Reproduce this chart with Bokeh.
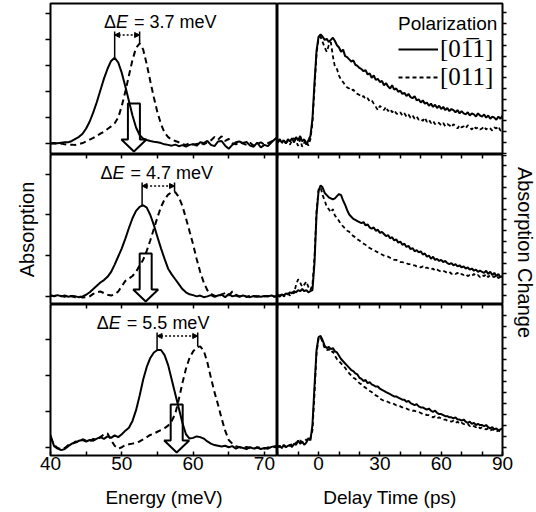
import math
from bokeh.plotting import figure
from bokeh.models import (Range1d, FixedTicker, LinearAxis, Arrow, NormalHead,
                          Legend, LegendItem, GridPlot)
from bokeh.core.properties import value
from bokeh.embed import file_html
from bokeh.resources import INLINE

# ---------------- data ----------------
energy = [40.0 + 0.5 * i for i in range(65)]          # meV sampling grid
delay = list(range(-20, 91))                           # ps sampling grid

abs_solid_1 = [0.00, 0.02, 0.01, 0.03, 0.05, 0.05, 0.10, 0.18, 0.26, 0.38,
               0.58, 0.85, 1.20, 1.60, 2.05, 2.50, 2.88, 3.18, 3.30, 3.12,
               2.72, 2.20, 1.64, 1.08, 0.62, 0.33, 0.19, 0.14, 0.10, 0.07,
               0.05, 0.02, -0.03, -0.05, -0.08, -0.04, -0.10, -0.06, -0.12, -0.05,
               -0.02, -0.08, 0.05, 0.02, 0.10, -0.05, -0.10, 0.08, 0.10, -0.08,
               -0.20, -0.05, 0.05, 0.08, 0.02, 0.06, -0.08, -0.12, 0.04, -0.15,
               -0.05, -0.10, 0.05, 0.18, 0.30]
abs_dash_1 = [0.00, 0.01, -0.02, 0.00, -0.03, -0.05, -0.04, -0.05, -0.02, 0.02,
              0.08, 0.15, 0.22, 0.30, 0.38, 0.46, 0.56, 0.66, 0.78, 1.00,
              1.45, 2.00, 2.62, 3.22, 3.68, 3.85, 3.62, 3.05, 2.40, 1.77,
              1.20, 0.75, 0.42, 0.25, 0.15, 0.10, 0.05, -0.02, -0.05, 0.02,
              -0.04, -0.02, 0.04, -0.03, 0.05, 0.12, 0.25, 0.15, 0.28, 0.10,
              0.18, 0.02, -0.03, 0.06, 0.00, -0.05, 0.03, -0.08, -0.02, 0.05,
              -0.04, 0.02, 0.08, 0.15, 0.20]
abs_solid_2 = [0.02, 0.01, 0.03, 0.00, 0.02, -0.01, 0.01, 0.00, -0.02, 0.00,
               0.04, 0.10, 0.18, 0.26, 0.34, 0.40, 0.48, 0.60, 0.78, 0.98,
               1.18, 1.42, 1.68, 1.92, 2.10, 2.20, 2.24, 2.18, 2.00, 1.75,
               1.46, 1.18, 0.92, 0.68, 0.54, 0.42, 0.30, 0.18, 0.10, 0.05,
               0.03, 0.00, 0.02, -0.02, 0.00, 0.03, -0.01, 0.02, 0.04, -0.02,
               0.06, 0.00, 0.02, -0.01, 0.02, 0.00, -0.02, 0.01, 0.00, -0.01,
               0.01, 0.00, 0.02, -0.01, 0.00]
abs_dash_2 = [0.02, 0.00, 0.03, 0.01, -0.01, 0.02, 0.00, -0.02, 0.00, -0.03,
              -0.02, 0.00, 0.06, 0.10, 0.12, 0.08, 0.04, 0.02, 0.05, 0.12,
              0.25, 0.38, 0.44, 0.50, 0.60, 0.76, 0.90, 1.12, 1.38, 1.66,
              1.94, 2.20, 2.38, 2.50, 2.56, 2.56, 2.44, 2.22, 1.92, 1.60,
              1.28, 0.92, 0.60, 0.34, 0.15, 0.06, 0.02, -0.02, 0.05, 0.08,
              0.02, 0.12, 0.04, 0.00, 0.03, -0.02, 0.02, 0.00, -0.01, 0.02,
              0.00, 0.01, -0.02, 0.00, 0.00]
abs_solid_3 = [0.35, 0.05, -0.02, -0.06, -0.03, 0.05, 0.12, 0.15, 0.20, 0.22,
               0.18, 0.22, 0.20, 0.26, 0.30, 0.25, 0.32, 0.28, 0.35, 0.30,
               0.38, 0.48, 0.56, 0.75, 1.05, 1.45, 1.90, 2.25, 2.50, 2.65,
               2.72, 2.72, 2.58, 2.30, 1.90, 1.50, 1.10, 0.70, 0.38, 0.26,
               0.28, 0.32, 0.30, 0.26, 0.18, 0.12, 0.08, 0.06, 0.04, 0.06,
               0.02, 0.05, -0.02, 0.03, 0.00, -0.03, 0.02, -0.02, 0.01, -0.03,
               0.00, -0.02, 0.03, 0.05, 0.05]
abs_dash_3 = [0.30, 0.08, 0.00, -0.04, 0.00, 0.08, 0.10, 0.18, 0.16, 0.24,
              0.20, 0.18, 0.25, 0.22, 0.30, 0.38, 0.40, 0.22, 0.06, -0.02,
              0.02, 0.08, 0.10, 0.12, 0.14, 0.18, 0.24, 0.30, 0.36, 0.40,
              0.45, 0.50, 0.55, 0.62, 0.75, 0.95, 1.35, 1.80, 2.20, 2.50,
              2.68, 2.79, 2.82, 2.70, 2.38, 1.95, 1.55, 1.20, 0.82, 0.48,
              0.22, 0.12, 0.05, 0.02, -0.02, 0.03, 0.00, -0.03, 0.02, 0.00,
              -0.02, 0.01, 0.04, 0.02, 0.03]

chg_solid_1 = [0.01, 0.03, 0.00, 0.02, -0.01, 0.03, 0.01, 0.04, 0.00, 0.05,
               0.02, 0.06, 0.01, 0.03, -0.02, 0.02, 0.06, 0.22, 0.55, 0.85,
               0.98, 1.00, 0.98, 0.95, 0.96, 0.93, 0.95, 0.97, 0.94, 0.90,
               0.88, 0.84, 0.86, 0.80, 0.79, 0.77, 0.75, 0.76, 0.72, 0.71,
               0.69, 0.68, 0.66, 0.67, 0.63, 0.64, 0.60, 0.62, 0.58, 0.59,
               0.56, 0.57, 0.53, 0.55, 0.52, 0.50, 0.53, 0.49, 0.50, 0.47,
               0.48, 0.45, 0.46, 0.43, 0.45, 0.42, 0.41, 0.43, 0.39, 0.40,
               0.37, 0.39, 0.36, 0.37, 0.34, 0.36, 0.33, 0.35, 0.32, 0.34,
               0.31, 0.33, 0.30, 0.32, 0.29, 0.31, 0.30, 0.28, 0.30, 0.27,
               0.29, 0.27, 0.26, 0.28, 0.25, 0.27, 0.26, 0.24, 0.27, 0.25,
               0.24, 0.26, 0.23, 0.25, 0.22, 0.24, 0.23, 0.21, 0.24, 0.22, 0.25]
chg_dash_1 = [0.00, 0.02, -0.01, 0.03, 0.00, 0.01, -0.02, 0.02, 0.04, 0.01,
              -0.03, 0.03, -0.04, 0.00, 0.02, -0.03, 0.03, 0.18, 0.50, 0.82,
              0.96, 0.98, 0.93, 0.88, 0.84, 0.90, 0.93, 0.80, 0.70, 0.68,
              0.62, 0.58, 0.56, 0.53, 0.51, 0.50, 0.48, 0.49, 0.46, 0.45,
              0.44, 0.42, 0.43, 0.40, 0.41, 0.38, 0.39, 0.36, 0.33, 0.30,
              0.34, 0.32, 0.30, 0.33, 0.29, 0.31, 0.28, 0.30, 0.27, 0.26,
              0.28, 0.25, 0.27, 0.24, 0.26, 0.23, 0.25, 0.22, 0.24, 0.21,
              0.22, 0.20, 0.23, 0.19, 0.21, 0.18, 0.20, 0.17, 0.19, 0.18,
              0.16, 0.18, 0.15, 0.17, 0.16, 0.14, 0.17, 0.15, 0.13, 0.16,
              0.14, 0.15, 0.13, 0.16, 0.14, 0.12, 0.15, 0.13, 0.14, 0.12,
              0.13, 0.15, 0.12, 0.14, 0.13, 0.11, 0.14, 0.13, 0.15, 0.11, 0.12]
chg_solid_2 = [0.00, -0.01, 0.01, 0.00, 0.02, 0.01, 0.03, 0.02, 0.04, 0.03,
               0.05, 0.04, 0.06, 0.04, 0.05, 0.03, 0.04, 0.05, 0.30, 0.75,
               0.97, 1.02, 1.00, 0.95, 0.93, 0.91, 0.90, 0.89, 0.90, 0.92,
               0.94, 0.93, 0.88, 0.84, 0.79, 0.75, 0.73, 0.71, 0.70, 0.69,
               0.68, 0.67, 0.68, 0.65, 0.66, 0.63, 0.62, 0.63, 0.60, 0.61,
               0.58, 0.59, 0.57, 0.55, 0.56, 0.53, 0.54, 0.51, 0.52, 0.49,
               0.50, 0.47, 0.48, 0.45, 0.46, 0.43, 0.44, 0.41, 0.42, 0.40,
               0.41, 0.38, 0.39, 0.36, 0.37, 0.34, 0.36, 0.33, 0.34, 0.32,
               0.33, 0.31, 0.32, 0.30, 0.29, 0.30, 0.28, 0.29, 0.27, 0.28,
               0.26, 0.27, 0.25, 0.26, 0.24, 0.25, 0.23, 0.24, 0.22, 0.23,
               0.22, 0.21, 0.23, 0.20, 0.22, 0.19, 0.21, 0.18, 0.20, 0.17, 0.18]
chg_dash_2 = [0.01, 0.00, 0.02, -0.01, 0.01, 0.02, 0.00, 0.03, 0.02, 0.10,
              0.15, 0.12, 0.08, 0.10, 0.13, 0.08, 0.05, 0.10, 0.35, 0.78,
              0.98, 1.00, 0.93, 0.88, 0.82, 0.80, 0.77, 0.80, 0.74, 0.72,
              0.69, 0.66, 0.64, 0.62, 0.60, 0.59, 0.57, 0.55, 0.54, 0.52,
              0.51, 0.49, 0.48, 0.47, 0.45, 0.44, 0.43, 0.42, 0.41, 0.40,
              0.39, 0.38, 0.37, 0.36, 0.36, 0.35, 0.34, 0.33, 0.33, 0.32,
              0.31, 0.31, 0.30, 0.30, 0.29, 0.29, 0.28, 0.28, 0.27, 0.27,
              0.26, 0.27, 0.25, 0.26, 0.25, 0.24, 0.25, 0.23, 0.24, 0.23,
              0.22, 0.23, 0.22, 0.21, 0.22, 0.20, 0.21, 0.20, 0.21, 0.19,
              0.20, 0.19, 0.20, 0.18, 0.19, 0.18, 0.20, 0.18, 0.19, 0.17,
              0.19, 0.18, 0.20, 0.17, 0.19, 0.18, 0.17, 0.19, 0.16, 0.18, 0.17]
chg_solid_3 = [0.00, 0.01, -0.01, 0.02, 0.00, 0.01, 0.02, 0.00, 0.03, 0.02,
               0.06, 0.03, 0.05, 0.02, 0.04, 0.08, 0.06, 0.20, 0.55, 0.88,
               1.00, 1.01, 0.97, 0.92, 0.90, 0.91, 0.89, 0.90, 0.87, 0.86,
               0.83, 0.80, 0.78, 0.76, 0.74, 0.72, 0.70, 0.69, 0.67, 0.66,
               0.63, 0.62, 0.60, 0.61, 0.58, 0.59, 0.57, 0.56, 0.55, 0.55,
               0.53, 0.52, 0.51, 0.50, 0.49, 0.48, 0.47, 0.46, 0.46, 0.45,
               0.44, 0.43, 0.43, 0.41, 0.42, 0.40, 0.39, 0.38, 0.39, 0.37,
               0.36, 0.36, 0.35, 0.34, 0.35, 0.33, 0.32, 0.33, 0.31, 0.30,
               0.30, 0.29, 0.28, 0.28, 0.27, 0.27, 0.26, 0.27, 0.25, 0.25,
               0.24, 0.25, 0.23, 0.22, 0.23, 0.21, 0.22, 0.20, 0.21, 0.20,
               0.20, 0.19, 0.20, 0.18, 0.17, 0.18, 0.16, 0.17, 0.15, 0.16, 0.17]
chg_dash_3 = [0.01, 0.00, 0.02, 0.01, 0.00, 0.02, 0.01, 0.03, 0.02, 0.04,
              0.05, 0.06, 0.04, 0.05, 0.07, 0.05, 0.08, 0.15, 0.48, 0.85,
              0.99, 1.00, 0.95, 0.90, 0.88, 0.89, 0.86, 0.87, 0.83, 0.80,
              0.78, 0.76, 0.74, 0.72, 0.69, 0.67, 0.65, 0.63, 0.62, 0.60,
              0.58, 0.57, 0.55, 0.54, 0.52, 0.51, 0.50, 0.48, 0.47, 0.46,
              0.44, 0.43, 0.42, 0.42, 0.41, 0.40, 0.40, 0.39, 0.38, 0.38,
              0.37, 0.36, 0.36, 0.35, 0.34, 0.34, 0.33, 0.33, 0.32, 0.32,
              0.31, 0.30, 0.30, 0.29, 0.29, 0.28, 0.27, 0.28, 0.26, 0.27,
              0.26, 0.25, 0.25, 0.24, 0.24, 0.23, 0.24, 0.22, 0.23, 0.21,
              0.22, 0.21, 0.20, 0.21, 0.19, 0.20, 0.19, 0.18, 0.19, 0.17,
              0.18, 0.17, 0.16, 0.17, 0.15, 0.16, 0.15, 0.14, 0.15, 0.14, 0.16]

abs_solid = [abs_solid_1, abs_solid_2, abs_solid_3]
abs_dash = [abs_dash_1, abs_dash_2, abs_dash_3]
chg_solid = [chg_solid_1, chg_solid_2, chg_solid_3]
chg_dash = [chg_dash_1, chg_dash_2, chg_dash_3]

delta_E = ["3.7", "4.7", "5.5"]                 # splitting labels
peak_solid_E = [49.0, 52.85, 54.95]             # peak positions (meV)
peak_dash_E = [52.5, 57.4, 60.65]
peak_solid_h = [3.31, 2.24, 2.71]               # peak heights
peak_dash_h = [3.85, 2.57, 2.82]
pump_E = [51.7, 53.35, 57.7]                    # hollow arrows (pump energy)
label_E = [47.5, 47.0, 46.5]                    # where each ΔE label starts

E_ticks = [40, 45, 50, 55, 60, 65, 70]
E_labeled = [40, 50, 60, 70]
T_ticks = [-20, -10, 0, 10, 20, 30, 40, 50, 60, 70, 80, 90]
T_labeled = [0, 30, 60, 90]
abs_yticks = [[0, 1, 2, 3, 4, 5], [0, 1, 2, 3], [0, 1, 2, 3]]
chg_yticks = [round(0.1 * i, 1) for i in range(-1, 14)]
legend_labels = ["[01\u03051]", "[011]"]

# ---------------- layout constants ----------------
FONT = "Liberation Sans"
SERIF = "Liberation Serif"
E_RANGE = (40.0, 71.84)
T_RANGE = (-20.1, 90.0)
ABS_YR = [(-0.42, 5.39), (-0.20, 3.486), (-0.21, 3.984)]
CHG_YR = [(-0.111, 1.287), (-0.083, 1.306), (-0.077, 1.296)]
LEFT_FW, RIGHT_FW, LAB_W = 227, 225, 23
FH = [151, 150, 151]
TOP_B = [3, 0, 0]
BOT_B = [0, 0, 57]
TOTAL_H = 512


def base_fig(fw, fh, xr, yr, yloc, **kw):
    p = figure(frame_width=fw, frame_height=fh, x_range=Range1d(*xr),
               y_range=Range1d(*yr), output_backend="svg", toolbar_location=None,
               x_axis_location=None, y_axis_location=yloc, **kw)
    p.xgrid.visible = False
    p.ygrid.visible = False
    p.outline_line_color = "black"
    p.outline_line_width = 2
    p.background_fill_color = "white"
    p.border_fill_color = "white"
    return p


def style_y(ax, ticks, tin, tout):
    ax.ticker = FixedTicker(ticks=ticks)
    ax.major_tick_in = tin
    ax.major_tick_out = tout
    ax.minor_tick_in = 0
    ax.minor_tick_out = 0
    ax.axis_line_color = None
    ax.major_tick_line_width = 1.5
    ax.major_label_text_color = None
    ax.major_label_text_font_size = "1px"
    ax.major_label_standoff = 0


def add_top_ticks(p, ticks):
    ax = LinearAxis(fixed_location=p.y_range.end, ticker=FixedTicker(ticks=ticks),
                    major_tick_in=4, major_tick_out=0, minor_tick_in=0, minor_tick_out=0,
                    axis_line_color=None, major_tick_line_width=1.5,
                    major_label_text_color=None, major_label_text_font_size="1px",
                    major_label_standoff=0)
    p.add_layout(ax, "above")


def add_bottom_axis(p, ticks, labeled, label):
    ax = LinearAxis(ticker=FixedTicker(ticks=ticks),
                    major_tick_in=4, major_tick_out=0, minor_tick_in=0, minor_tick_out=0,
                    axis_line_color=None, major_tick_line_width=1.5,
                    major_label_overrides={t: "" for t in ticks if t not in labeled},
                    major_label_text_font=FONT, major_label_text_font_size="19px",
                    major_label_text_color="black", major_label_standoff=1,
                    axis_label=label, axis_label_text_font=FONT,
                    axis_label_text_font_size="19px", axis_label_text_font_style="normal",
                    axis_label_text_color="black", axis_label_standoff=14)
    p.add_layout(ax, "below")


left_figs, right_figs = [], []
for i in range(3):
    # ---------- left: absorption spectra ----------
    p = base_fig(LEFT_FW, FH[i], E_RANGE, ABS_YR[i], "left",
                 min_border_left=50, min_border_right=0,
                 min_border_top=TOP_B[i], min_border_bottom=BOT_B[i])
    style_y(p.yaxis[0], abs_yticks[i], 0, 5)
    if i == 1:
        p.yaxis[0].axis_label = "Absorption"
        p.yaxis[0].axis_label_text_font = FONT
        p.yaxis[0].axis_label_text_font_size = "20px"
        p.yaxis[0].axis_label_text_font_style = "normal"
        p.yaxis[0].axis_label_text_color = "black"
        p.yaxis[0].axis_label_standoff = 8
    if i > 0:
        add_top_ticks(p, E_ticks)
    if i == 2:
        add_bottom_axis(p, E_ticks, E_labeled, "Energy (meV)")

    p.line(energy, abs_solid[i], line_color="black", line_width=2)
    p.line(energy, abs_dash[i], line_color="black", line_width=2, line_dash="6 4")

    ys, ye = ABS_YR[i]
    ppy = (ye - ys) / FH[i]                     # data units per pixel (y)
    ppx = (E_RANGE[1] - E_RANGE[0]) / LEFT_FW   # meV per pixel
    top_v = ye - 28 * ppy
    dot_y = ye - 31.5 * ppy
    p.segment(x0=[peak_solid_E[i], peak_dash_E[i]], y0=[peak_solid_h[i], peak_dash_h[i]],
              x1=[peak_solid_E[i], peak_dash_E[i]], y1=[top_v, top_v],
              line_color="black", line_width=1.5)
    p.add_layout(Arrow(x_start=peak_solid_E[i], y_start=dot_y, x_end=peak_dash_E[i], y_end=dot_y,
                       line_color="black", line_width=1.5, line_dash="2 2",
                       start=NormalHead(size=5, fill_color="black", line_color="black"),
                       end=NormalHead(size=5, fill_color="black", line_color="black")))
    # ΔE label: "Δ" + italic "E" + " = x meV"
    ty = ye - 18 * ppy
    tx = label_E[i]
    p.text(x=[tx], y=[ty], text=["Δ"], text_font=value(FONT), text_font_size="18px",
           text_baseline="middle", text_align="left", text_color="black")
    p.text(x=[tx], y=[ty], text=["E"], x_offset=12, text_font=value(FONT),
           text_font_size="18px", text_font_style="italic",
           text_baseline="middle", text_align="left", text_color="black")
    p.text(x=[tx], y=[ty], text=["= " + delta_E[i] + " meV"], x_offset=30,
           text_font=value(FONT), text_font_size="18px",
           text_baseline="middle", text_align="left", text_color="black")
    # hollow down arrow (pump energy)
    tip_y = ys + 3 * ppy
    shape = [(0, 0), (-12.5, 12), (-6, 12), (-6, 48), (6, 48), (6, 12), (12.5, 12)]
    p.patch([pump_E[i] + dx * ppx for dx, dy in shape],
            [tip_y + dy * ppy for dx, dy in shape],
            fill_color=None, line_color="black", line_width=2)
    left_figs.append(p)

    # ---------- right: absorption change transients ----------
    q = base_fig(RIGHT_FW, FH[i], T_RANGE, CHG_YR[i], "right",
                 min_border_left=0, min_border_right=11,
                 min_border_top=TOP_B[i], min_border_bottom=BOT_B[i])
    style_y(q.yaxis[0], chg_yticks, 0, 4)
    if i > 0:
        add_top_ticks(q, T_ticks)
    if i == 2:
        add_bottom_axis(q, T_ticks, T_labeled, "Delay Time (ps)")
    rd = q.line(delay, chg_dash[i], line_color="black", line_width=1.8, line_dash="4 3")
    rs = q.line(delay, chg_solid[i], line_color="black", line_width=2)
    if i == 0:
        leg = Legend(items=[LegendItem(label=value(legend_labels[0]), renderers=[rs]),
                            LegendItem(label=value(legend_labels[1]), renderers=[rd])],
                     title="Polarization", location=(121, 63),
                     title_text_font=FONT, title_text_font_size="19px",
                     title_text_font_style="normal", title_text_color="black",
                     title_standoff=0,
                     label_text_font=SERIF, label_text_font_size="25px",
                     label_text_color="black",
                     glyph_width=40, glyph_height=22, label_height=22,
                     label_standoff=2, spacing=0, padding=0, margin=0,
                     border_line_color=None, background_fill_alpha=0)
        q.add_layout(leg)
    right_figs.append(q)

# ---------- right-hand axis title spanning the rows ----------
lab = figure(frame_width=LAB_W, frame_height=TOTAL_H, x_range=Range1d(0, 1),
             y_range=Range1d(0, 1), output_backend="svg", toolbar_location=None,
             x_axis_location=None, y_axis_location=None,
             min_border_left=0, min_border_right=0, min_border_top=0, min_border_bottom=0)
lab.xgrid.visible = False
lab.ygrid.visible = False
lab.outline_line_color = None
lab.text(x=[0.5], y=[1 - 249 / TOTAL_H], text=["Absorption Change"], angle=-math.pi / 2,
         text_font=value(FONT), text_font_size="20px", text_align="center",
         text_baseline="middle", text_color="black")

grid = GridPlot(children=[(left_figs[0], 0, 0), (right_figs[0], 0, 1),
                          (left_figs[1], 1, 0), (right_figs[1], 1, 1),
                          (left_figs[2], 2, 0), (right_figs[2], 2, 1),
                          (lab, 0, 2, 3, 1)],
                toolbar_location=None)

open("out.html", "w").write(file_html(grid, INLINE))
